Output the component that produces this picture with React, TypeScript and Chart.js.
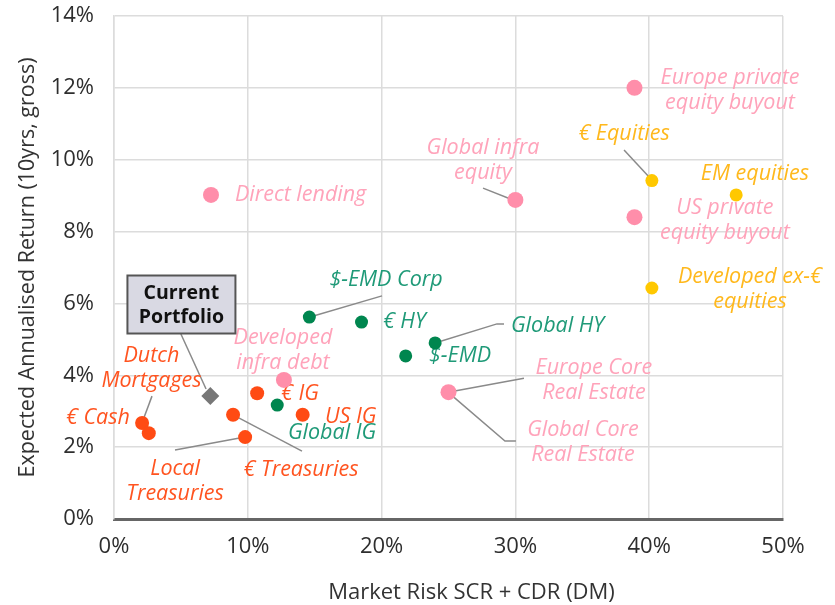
import React, { useEffect, useRef } from "react";
import { Chart, registerables } from "chart.js";

Chart.register(...registerables);

// ---- Data (x: Market Risk SCR + CDR %, y: expected return %) ----
const pinkNames = ["Direct lending", "Europe private equity buyout", "Global infra equity", "US private equity buyout", "Core Real Estate", "Developed infra debt"];
const pinkX = [7.25, 38.9, 30.0, 38.9, 25.0, 12.7];
const pinkY = [9.02, 12.0, 8.88, 8.4, 3.53, 3.87];

const yellowNames = ["€ Equities", "EM equities", "Developed ex-€ equities"];
const yellowX = [40.2, 46.5, 40.2];
const yellowY = [9.42, 9.02, 6.43];

const greenNames = ["$-EMD Corp", "€ HY", "$-EMD", "Global HY", "Global IG"];
const greenX = [14.6, 18.5, 21.8, 24.0, 12.2];
const greenY = [5.62, 5.48, 4.54, 4.9, 3.17];

const orangeNames = ["€ IG", "US IG", "€ Treasuries", "Local Treasuries", "Dutch Mortgages", "€ Cash"];
const orangeX = [10.7, 14.1, 8.9, 9.8, 2.1, 2.6];
const orangeY = [3.5, 2.9, 2.9, 2.28, 2.67, 2.39];

const portfolioX = [7.2];
const portfolioY = [3.42];

const xTicks = [0, 10, 20, 30, 40, 50];
const yTicks = [0, 2, 4, 6, 8, 10, 12, 14];

const xTitle = "Market Risk SCR + CDR (DM)";
const yTitle = "Expected Annualised Return (10yrs, gross)";

// Label anchors in data units
const labelTexts = [
  ["Direct lending"], ["Europe private", "equity buyout"], ["Global infra", "equity"], ["€ Equities"],
  ["EM equities"], ["US private", "equity buyout"], ["Developed ex-€", "equities"], ["$-EMD Corp"],
  ["€ HY"], ["Global HY"], ["$-EMD"], ["Europe Core", "Real Estate"], ["Global Core", "Real Estate"],
  ["Developed", "infra debt"], ["€ IG"], ["US IG"], ["Global IG"], ["€ Treasuries"],
  ["Local", "Treasuries"], ["€ Cash"], ["Dutch", "Mortgages"],
];
const labelX = [9.04, 46.04, 27.58, 38.12, 47.9, 45.66, 47.53, 20.33, 20.1, 29.67, 23.54, 35.87, 35.05, 12.63, 12.48, 15.77, 13.0, 13.98, 4.56, -1.2, 2.8];
const labelY = [9.02, 11.94, 9.99, 10.72, 9.6, 8.32, 6.4, 6.65, 5.48, 5.37, 4.54, 3.87, 2.14, 4.68, 3.48, 2.84, 2.39, 1.36, 1.06, 2.81, 4.2];
const labelGroup = ["pink", "pink", "pink", "yellow", "yellow", "pink", "yellow", "green", "green", "green", "green", "pink", "pink", "pink", "orange", "orange", "green", "orange", "orange", "orange", "orange"];
const labelAlign = ["left", "center", "center", "center", "center", "center", "center", "center", "left", "left", "left", "center", "center", "center", "left", "left", "left", "center", "center", "center", "center"];

// Leader lines (data units)
const leaders: number[][][] = [
  [[27.58, 9.21], [29.82, 8.88]],
  [[38.12, 10.27], [40.13, 9.46]],
  [[14.65, 5.62], [20.03, 6.21]],
  [[23.99, 4.9], [28.62, 5.43], [29.15, 5.43]],
  [[24.96, 3.53], [30.64, 3.92]],
  [[24.96, 3.53], [29.22, 2.17], [30.04, 2.17]],
  [[2.84, 3.42], [2.09, 2.67]],
  [[9.04, 2.87], [14.05, 1.89]],
  [[4.56, 1.92], [9.79, 2.28]],
  [[5.0, 5.15], [6.88, 3.62]],
];

const portfolioLabel = ["Current", "Portfolio"];
const portfolioLabelX = [5.04];
const portfolioLabelY = [5.97];

const dotColors: Record<string, string> = { pink: "#ff8eaa", yellow: "#ffc800", green: "#00864f", orange: "#ff4b14", gray: "#777777" };
const textColors: Record<string, string> = { pink: "#ffa3ba", yellow: "#ffb81c", green: "#1f9a78", orange: "#ff5420" };

const toPts = (xs: number[], ys: number[]) => xs.map((x, i) => ({ x, y: ys[i] }));

const FONT = "'Open Sans', 'DejaVu Sans', sans-serif";

const annotationPlugin = {
  id: "annotations",
  beforeDatasetsDraw(chart: any) {
    const { ctx, scales } = chart;
    const xs = scales.x;
    const ys = scales.y;
    ctx.save();
    // x axis title (sits a little right of the plot centre in the original)
    ctx.font = `22px ${FONT}`;
    ctx.fillStyle = "#333";
    ctx.textAlign = "center";
    ctx.textBaseline = "middle";
    ctx.fillText(xTitle, (xs.left + xs.right) / 2 + 23, chart.height - 12);
    // leader lines
    ctx.strokeStyle = "#8a8a8a";
    ctx.lineWidth = 1.5;
    leaders.forEach((pts) => {
      ctx.beginPath();
      pts.forEach(([dx, dy], i) => {
        const px = xs.getPixelForValue(dx);
        const py = ys.getPixelForValue(dy);
        if (i === 0) ctx.moveTo(px, py);
        else ctx.lineTo(px, py);
      });
      ctx.stroke();
    });
    // labels
    ctx.font = `italic 21.5px ${FONT}`;
    ctx.textBaseline = "middle";
    const lh = 25;
    labelTexts.forEach((lines, i) => {
      const px = xs.getPixelForValue(labelX[i]);
      const py = ys.getPixelForValue(labelY[i]);
      ctx.fillStyle = textColors[labelGroup[i]];
      ctx.textAlign = labelAlign[i] as CanvasTextAlign;
      const top = py - ((lines.length - 1) * lh) / 2;
      lines.forEach((t, j) => ctx.fillText(t, px, top + j * lh));
    });
    // current portfolio box
    const cx = xs.getPixelForValue(portfolioLabelX[0]);
    const cy = ys.getPixelForValue(portfolioLabelY[0]);
    const w = 108, h = 58;
    ctx.fillStyle = "#d9d9e3";
    ctx.fillRect(cx - w / 2, cy - h / 2, w, h);
    ctx.strokeStyle = "#555555";
    ctx.lineWidth = 2;
    ctx.strokeRect(cx - w / 2, cy - h / 2, w, h);
    ctx.fillStyle = "#111111";
    ctx.font = `bold 19.5px ${FONT}`;
    ctx.textAlign = "center";
    ctx.fillText(portfolioLabel[0], cx, cy - 11);
    ctx.fillText(portfolioLabel[1], cx, cy + 13);
    ctx.restore();
  },
};

export default function App() {
  const ref = useRef<HTMLCanvasElement>(null);
  useEffect(() => {
    if (!ref.current) return;
    const chart = new Chart(ref.current, {
      type: "scatter",
      data: {
        datasets: [
          { label: "pink", data: toPts(pinkX, pinkY), backgroundColor: dotColors.pink, borderWidth: 0, pointRadius: 8 },
          { label: "yellow", data: toPts(yellowX, yellowY), backgroundColor: dotColors.yellow, borderWidth: 0, pointRadius: 6.5 },
          { label: "green", data: toPts(greenX, greenY), backgroundColor: dotColors.green, borderWidth: 0, pointRadius: 6.5 },
          { label: "orange", data: toPts(orangeX, orangeY), backgroundColor: dotColors.orange, borderWidth: 0, pointRadius: 7 },
          { label: "Current Portfolio", data: toPts(portfolioX, portfolioY), backgroundColor: dotColors.gray, borderWidth: 0, pointRadius: 9, pointStyle: "rectRot" },
        ],
      },
      options: {
        responsive: false,
        animation: false,
        layout: { padding: { left: 0, right: 52, top: 16, bottom: 0 } },
        plugins: { legend: { display: false }, tooltip: { enabled: false } },
        scales: {
          x: {
            type: "linear",
            min: 0,
            max: 50,
            afterBuildTicks: (s: any) => { s.ticks = xTicks.map((v) => ({ value: v })); },
            afterFit: (s: any) => { s.height = 86; s.paddingLeft = 0; s.paddingRight = 0; },
            ticks: { callback: (v: any) => v + "%", color: "#2e2e2e", font: { family: FONT, size: 22 }, padding: 15 },
            grid: { color: "#dcdcdc", lineWidth: 1.5, drawTicks: false },
            border: { color: "#666", width: 3 },
            title: { display: false, text: xTitle },
          },
          y: {
            type: "linear",
            min: 0,
            max: 14,
            afterBuildTicks: (s: any) => { s.ticks = yTicks.map((v) => ({ value: v })); },
            afterFit: (s: any) => { s.width = 114; s.paddingTop = 0; s.paddingBottom = 0; },
            ticks: { callback: (v: any) => v + "%", color: "#2e2e2e", font: { family: FONT, size: 22 }, padding: 20 },
            grid: { color: "#dcdcdc", lineWidth: 1.5, drawTicks: false },
            border: { color: "#dcdcdc", width: 1.5 },
            title: { display: true, text: yTitle, color: "#333", font: { family: FONT, size: 21.5 }, padding: { top: 15, bottom: 0 } },
          },
        },
      },
      plugins: [annotationPlugin],
    });
    return () => chart.destroy();
  }, []);
  return (
    <div style={{ position: "absolute", left: 0, top: 0, width: 835, height: 605, background: "#fff" }}>
      <canvas ref={ref} width={835} height={605} />
    </div>
  );
}
